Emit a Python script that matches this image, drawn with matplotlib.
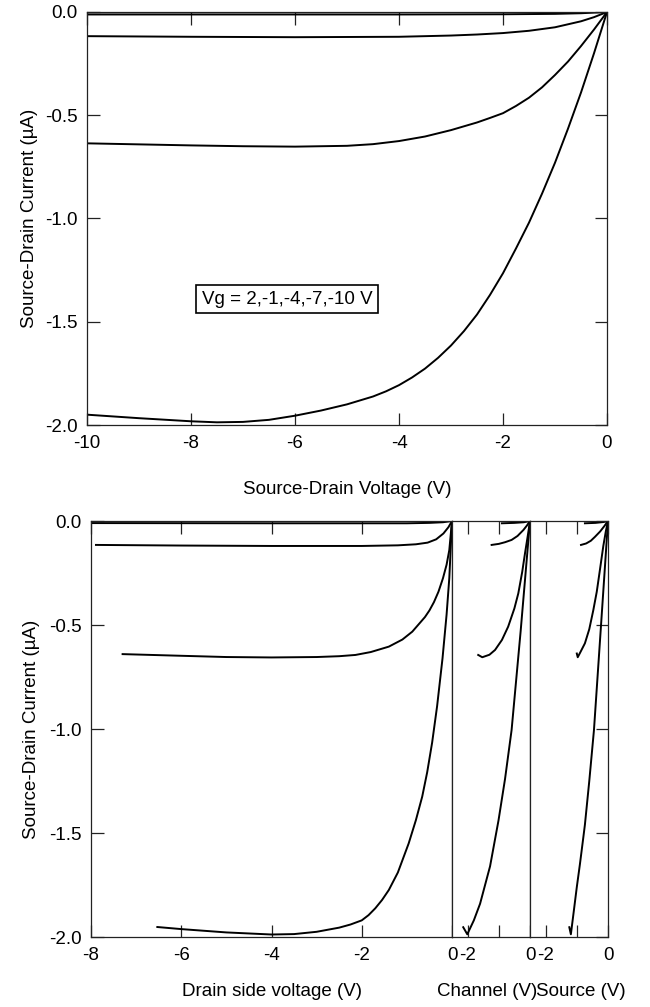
import matplotlib
matplotlib.use("Agg")
import matplotlib.pyplot as plt
from matplotlib.ticker import FixedLocator, FixedFormatter

plt.rcParams['font.family'] = ['Liberation Sans', 'DejaVu Sans']
plt.rcParams['font.size'] = 13.5
plt.rcParams['axes.unicode_minus'] = False

# ---------------- data: top panel (total source-drain voltage) ----------------
top_v_m10 = [-10, -9, -8, -7.5, -7, -6.5, -6, -5.5, -5, -4.5, -4.25, -4, -3.75, -3.5, -3.25, -3, -2.75,
             -2.5, -2.25, -2, -1.75, -1.5, -1.25, -1, -0.75, -0.5, -0.25, 0]
top_i_m10 = [-1.95, -1.967, -1.982, -1.987, -1.985, -1.975, -1.955, -1.93, -1.90, -1.862, -1.837, -1.807, -1.77,
             -1.727, -1.675, -1.615, -1.545, -1.465, -1.37, -1.265, -1.145, -1.02, -0.88, -0.73, -0.565, -0.39, -0.20, 0]
top_v_m7 = [-10, -9, -8, -7, -6, -5, -4.5, -4, -3.5, -3, -2.5, -2.25, -2, -1.75, -1.5, -1.25, -1, -0.75, -0.5, -0.25, 0]
top_i_m7 = [-0.636, -0.641, -0.646, -0.65, -0.652, -0.648, -0.64, -0.625, -0.603, -0.572, -0.535, -0.513, -0.49,
            -0.455, -0.415, -0.365, -0.305, -0.24, -0.165, -0.085, 0]
top_v_m4 = [-10, -8, -6, -4, -3, -2.5, -2, -1.5, -1, -0.5, -0.25, 0]
top_i_m4 = [-0.117, -0.12, -0.122, -0.12, -0.114, -0.109, -0.102, -0.091, -0.074, -0.045, -0.025, 0]
top_v_m1 = [-10, -4, -2, -1, -0.5, 0]
top_i_m1 = [-0.012, -0.012, -0.011, -0.009, -0.006, 0]
top_v_p2 = [-10, 0]
top_i_p2 = [-0.001, 0]

# ---------------- data: bottom, drain side ----------------
drain_v_m10 = [-6.53, -6, -5, -4, -3.5, -3, -2.5, -2.25, -2, -1.85, -1.7, -1.55, -1.4, -1.2, -0.96, -0.8, -0.66,
               -0.55, -0.44, -0.33, -0.21, -0.12, -0.06, 0]
drain_i_m10 = [-1.952, -1.962, -1.978, -1.988, -1.986, -1.975, -1.955, -1.94, -1.92, -1.895, -1.862, -1.822, -1.774,
               -1.69, -1.55, -1.438, -1.325, -1.208, -1.065, -0.89, -0.66, -0.45, -0.275, 0]
drain_v_m7 = [-7.30, -6, -5, -4, -3, -2.5, -2.14, -1.8, -1.4, -1.1, -0.88, -0.7, -0.6, -0.5, -0.4, -0.3, -0.2,
              -0.12, -0.06, 0]
drain_i_m7 = [-0.64, -0.648, -0.654, -0.656, -0.654, -0.65, -0.644, -0.63, -0.604, -0.57, -0.532, -0.487, -0.462,
              -0.43, -0.39, -0.34, -0.275, -0.21, -0.14, 0]
drain_v_m4 = [-7.89, -6, -4, -2, -1.2, -0.8, -0.54, -0.35, -0.19, -0.08, 0]
drain_i_m4 = [-0.115, -0.118, -0.12, -0.12, -0.117, -0.112, -0.104, -0.088, -0.06, -0.03, 0]
drain_v_m1 = [-8, -4, -1, -0.5, -0.2, 0]
drain_i_m1 = [-0.01, -0.011, -0.011, -0.009, -0.006, 0]
drain_v_p2 = [-8, 0]
drain_i_p2 = [-0.001, 0]

# ---------------- data: bottom, channel ----------------
chan_v_m10 = [-2.14, -2.01, -1.8, -1.6, -1.28, -1.01, -0.8, -0.59, -0.3, 0]
chan_i_m10 = [-1.953, -1.987, -1.92, -1.84, -1.66, -1.44, -1.24, -1.005, -0.53, 0]
chan_v_m7 = [-1.66, -1.53, -1.3, -1.12, -0.9, -0.70, -0.5, -0.375, -0.25, -0.16, -0.07, 0]
chan_i_m7 = [-0.644, -0.655, -0.643, -0.62, -0.572, -0.508, -0.42, -0.348, -0.245, -0.155, -0.07, 0]
chan_v_m4 = [-1.23, -1.0, -0.8, -0.59, -0.4, -0.21, -0.1, 0]
chan_i_m4 = [-0.115, -0.11, -0.102, -0.091, -0.072, -0.043, -0.022, 0]
chan_v_m1 = [-0.9, -0.5, -0.2, 0]
chan_i_m1 = [-0.011, -0.009, -0.006, 0]

# ---------------- data: bottom, source ----------------
src_v_m10 = [-1.24, -1.19, -1.1, -1.0, -0.9, -0.79, -0.74, -0.6, -0.45, -0.25, 0]
src_i_m10 = [-1.953, -1.987, -1.88, -1.76, -1.65, -1.52, -1.46, -1.25, -1.005, -0.56, 0]
src_v_m7 = [-1.0, -0.97, -0.9, -0.74, -0.6, -0.47, -0.36, -0.26, -0.15, -0.07, 0]
src_i_m7 = [-0.637, -0.655, -0.635, -0.588, -0.52, -0.428, -0.34, -0.236, -0.12, -0.05, 0]
src_v_m4 = [-0.865, -0.7, -0.55, -0.417, -0.25, -0.12, 0]
src_i_m4 = [-0.115, -0.108, -0.095, -0.076, -0.05, -0.025, 0]
src_v_m1 = [-0.74, -0.4, -0.15, 0]
src_i_m1 = [-0.011, -0.009, -0.005, 0]

top_xticks = [-10, -8, -6, -4, -2, 0]
yticks = [0.0, -0.5, -1.0, -1.5, -2.0]
ytick_labels = ['0.0', '-0.5', '-1.0', '-1.5', '-2.0']
drain_xticks = [-8, -6, -4, -2, 0]
small_xticks = [-2, -1, 0]
small_xtick_labels = ['-2', '', '0']
legend_text = 'Vg = 2,-1,-4,-7,-10 V'

LW = 1.4
SP_LW = 0.9
W, H = 650, 1007

fig = plt.figure(figsize=(6.5, 10.07), dpi=100)


def box(x0, y0, x1, y1):
    return [x0 / W, 1 - y1 / H, (x1 - x0) / W, (y1 - y0) / H]


def style(ax):
    for s in ax.spines.values():
        s.set_linewidth(SP_LW)
        s.set_color('#222222')
    ax.tick_params(which='both', direction='in', length=9, width=SP_LW, color='#222222', pad=7)


# ---------------- top panel ----------------
ax = fig.add_axes(box(87, 12, 607, 425))
style(ax)
for v, i in [(top_v_p2, top_i_p2), (top_v_m1, top_i_m1), (top_v_m4, top_i_m4),
             (top_v_m7, top_i_m7), (top_v_m10, top_i_m10)]:
    ax.plot(v, i, color='black', lw=LW)
ax.set_xlim(-10, 0)
ax.set_ylim(-2, 0)
ax.xaxis.set_major_locator(FixedLocator(top_xticks))
ax.xaxis.set_major_formatter(FixedFormatter([str(t) for t in top_xticks]))
ax.yaxis.set_major_locator(FixedLocator(yticks))
ax.yaxis.set_major_formatter(FixedFormatter(ytick_labels))
ax.tick_params(top=True, right=True)
ax.set_xlabel('Source-Drain Voltage (V)', va='center')
ax.xaxis.set_label_coords(0.5, (425 - 489) / 413)
ax.set_ylabel('Source-Drain Current (µA)', va='center')
ax.yaxis.set_label_coords((30 - 87) / 520, 0.5)
ax.text(-6.15, -1.39, legend_text, ha='center', va='center',
        bbox=dict(boxstyle='square,pad=0.3', fc='white', ec='black', lw=1.2))

# ---------------- bottom: drain side ----------------
ax1 = fig.add_axes(box(91, 521, 452, 937))
style(ax1)
for v, i in [(drain_v_p2, drain_i_p2), (drain_v_m1, drain_i_m1), (drain_v_m4, drain_i_m4),
             (drain_v_m7, drain_i_m7), (drain_v_m10, drain_i_m10)]:
    ax1.plot(v, i, color='black', lw=LW)
ax1.set_xlim(-8, 0)
ax1.set_ylim(-2, 0)
ax1.xaxis.set_major_locator(FixedLocator(drain_xticks))
ax1.xaxis.set_major_formatter(FixedFormatter([str(t) for t in drain_xticks]))
ax1.yaxis.set_major_locator(FixedLocator(yticks))
ax1.yaxis.set_major_formatter(FixedFormatter(ytick_labels))
ax1.tick_params(top=True, right=False)
ax1.set_xlabel('Drain side voltage (V)', va='center')
ax1.xaxis.set_label_coords(0.5, (937 - 991) / 416)
ax1.set_ylabel('Source-Drain Current (µA)', va='center')
ax1.yaxis.set_label_coords((31 - 91) / 361, 0.5)

# ---------------- bottom: channel ----------------
ax2 = fig.add_axes(box(452, 521, 530, 937))
style(ax2)
for v, i in [(chan_v_m1, chan_i_m1), (chan_v_m4, chan_i_m4),
             (chan_v_m7, chan_i_m7), (chan_v_m10, chan_i_m10)]:
    ax2.plot(v, i, color='black', lw=LW)
ax2.set_xlim(-2.5, 0)
ax2.set_ylim(-2, 0)
ax2.xaxis.set_major_locator(FixedLocator(small_xticks))
ax2.xaxis.set_major_formatter(FixedFormatter(small_xtick_labels))
ax2.yaxis.set_major_locator(FixedLocator([]))
ax2.tick_params(top=True, left=False, right=False)
ax2.set_xlabel('Channel (V)', va='center')
ax2.xaxis.set_label_coords((487 - 452) / 78, (937 - 991) / 416)

# ---------------- bottom: source ----------------
ax3 = fig.add_axes(box(530, 521, 608, 937))
style(ax3)
for v, i in [(src_v_m1, src_i_m1), (src_v_m4, src_i_m4),
             (src_v_m7, src_i_m7), (src_v_m10, src_i_m10)]:
    ax3.plot(v, i, color='black', lw=LW)
ax3.set_xlim(-2.5, 0)
ax3.set_ylim(-2, 0)
ax3.xaxis.set_major_locator(FixedLocator(small_xticks))
ax3.xaxis.set_major_formatter(FixedFormatter(small_xtick_labels))
ax3.yaxis.set_major_locator(FixedLocator(yticks))
ax3.tick_params(top=True, left=False, right=True, labelleft=False, labelright=False)
ax3.set_xlabel('Source (V)', va='center')
ax3.xaxis.set_label_coords((581 - 530) / 78, (937 - 991) / 416)

fig.savefig('out.png', dpi=100)
